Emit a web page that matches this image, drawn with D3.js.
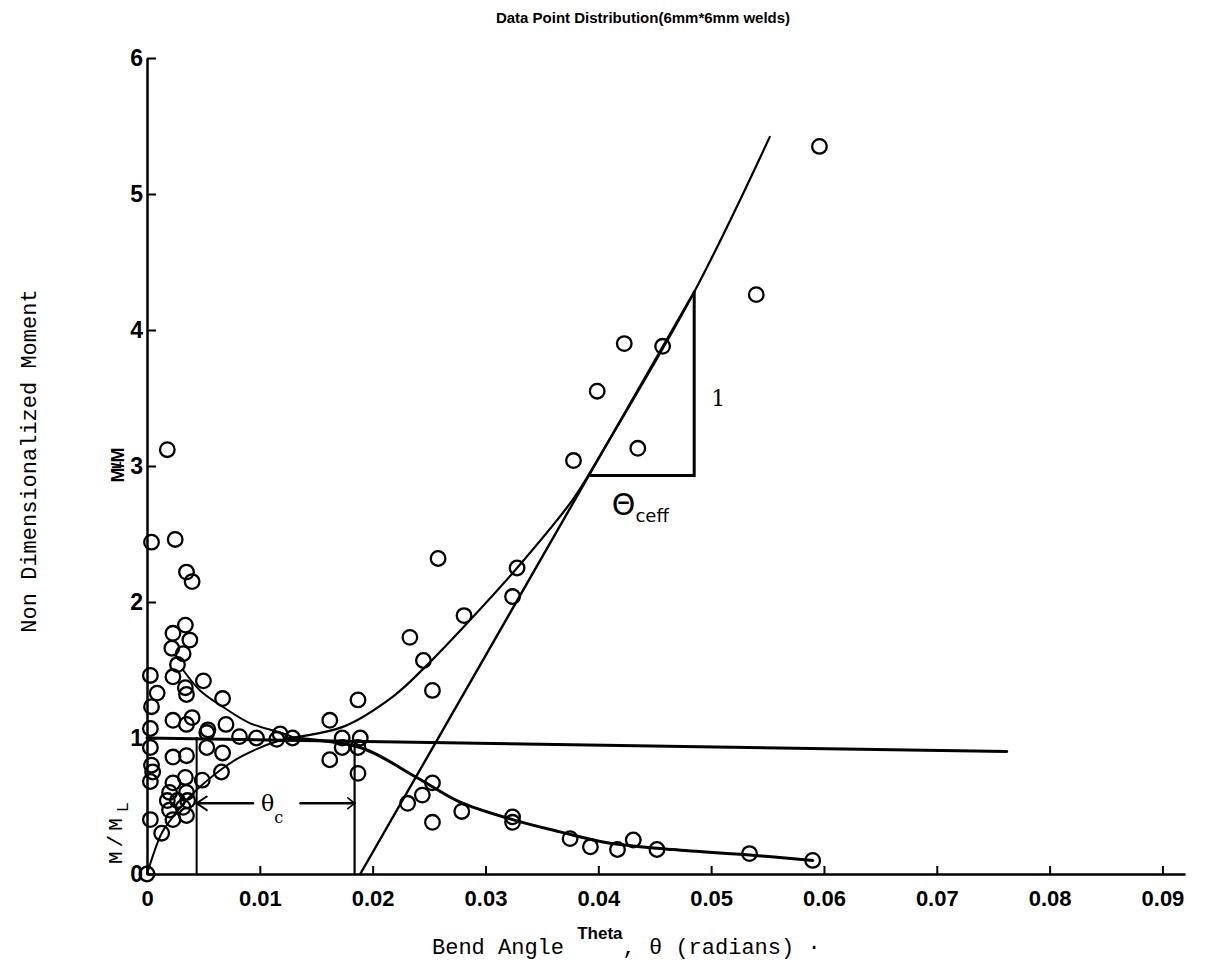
<!DOCTYPE html>
<html>
<head>
<meta charset="utf-8">
<script src="https://cdn.jsdelivr.net/npm/d3@7"></script>
<style>
body{margin:0;background:#fff;}
svg{display:block;background:#fff;}
.tick text{font-family:"Liberation Sans",Arial,sans-serif;font-weight:bold;fill:#000;}
.mono{font-family:"Liberation Mono","Courier New",monospace;fill:#000;}
.sans{font-family:"Liberation Sans",Arial,sans-serif;font-weight:bold;fill:#000;}
</style>
</head>
<body>
<div id="chart"></div>
<script>
// axis ticks
var xTicks = [0, 0.01, 0.02, 0.03, 0.04, 0.05, 0.06, 0.07, 0.08, 0.09];
var yTicks = [0, 1, 2, 3, 4, 5, 6];

// measured points, bend angle (rad) / non dimensional moment
var pointTheta = [
    0.0596, 0.0540, 0.0423, 0.0457, 0.0399, 0.0435, 0.0378, 0.0258, 0.0328, 0.0324,
    0.0281, 0.0233, 0.0245, 0.0253, 0.0187, 0.0162, 0.0173, 0.0189, 0.0173, 0.0187,
    0.0162, 0.0187, 0.0253, 0.0244, 0.0231, 0.0279, 0.0253, 0.0324, 0.0324,
    0.0375, 0.0393, 0.0417, 0.0431, 0.0452, 0.0534, 0.0590,
    0.0097, 0.0115, 0.0118, 0.0129,
    0.0018, 0.0004, 0.0025, 0.0035, 0.0040, 0.0034, 0.0023, 0.0038, 0.0022, 0.0032,
    0.0027, 0.0003, 0.0023, 0.0050, 0.0009, 0.0034, 0.0035, 0.0067, 0.0004, 0.0023,
    0.0040, 0.0035, 0.0054, 0.0070, 0.0003, 0.0082, 0.0003, 0.0053, 0.0067, 0.0023,
    0.0035, 0.0004, 0.0005, 0.0066, 0.0003, 0.0023, 0.0034, 0.0049, 0.0020, 0.0035,
    0.0018, 0.0027, 0.0036, 0.0020, 0.0032, 0.0035, 0.0003, 0.0023, 0.0013, 0.0000,
    0.0053
];
var pointMoment = [
    5.35, 4.26, 3.90, 3.88, 3.55, 3.13, 3.04, 2.32, 2.25, 2.04,
    1.90, 1.74, 1.57, 1.35, 1.28, 1.13, 1.00, 1.00, 0.93, 0.93,
    0.84, 0.74, 0.67, 0.58, 0.52, 0.46, 0.38, 0.42, 0.38,
    0.26, 0.20, 0.18, 0.25, 0.18, 0.15, 0.10,
    1.00, 0.99, 1.03, 1.00,
    3.12, 2.44, 2.46, 2.22, 2.15, 1.83, 1.77, 1.72, 1.66, 1.62,
    1.54, 1.46, 1.45, 1.42, 1.33, 1.37, 1.32, 1.29, 1.23, 1.13,
    1.15, 1.10, 1.06, 1.10, 1.07, 1.01, 0.93, 0.93, 0.89, 0.86,
    0.87, 0.80, 0.75, 0.75, 0.68, 0.67, 0.71, 0.69, 0.60, 0.60,
    0.54, 0.54, 0.54, 0.47, 0.49, 0.43, 0.40, 0.40, 0.30, 0.00,
    1.04
];

// fitted curves (theta, moment)
var riseCurve = [[0.0125, 1.0], [0.0173, 1.08], [0.0218, 1.305], [0.0245, 1.51], [0.0281, 1.82],
    [0.0328, 2.25], [0.0378, 2.76], [0.0401, 3.07], [0.0485, 4.28], [0.0552, 5.42]];
var dropCurve = [[0.0032, 1.5], [0.0047, 1.35], [0.0067, 1.23], [0.0091, 1.11], [0.0118, 1.04], [0.0131, 1.0]];
var originCurve = [[0, 0], [0.0013, 0.30], [0.0023, 0.42], [0.0038, 0.57], [0.0066, 0.77],
    [0.0085, 0.87], [0.0117, 0.98], [0.0131, 1.0]];
var tailCurve = [[0.0127, 1.0], [0.0189, 0.93], [0.0239, 0.71], [0.0277, 0.53], [0.0324, 0.40],
    [0.0366, 0.31], [0.0408, 0.23], [0.0466, 0.18], [0.0534, 0.14], [0.0590, 0.10]];
var tangentLine = [[0.0189, 0], [0.0485, 4.28]];
var limitLine = [[0, 1.0], [0.0762, 0.90]];

// theta_c and theta_ceff construction
var thetaC = [0.0044, 0.0184];
var arrowY = 0.52;
var slopeBase = [[0.0393, 2.93], [0.0485, 2.93], [0.0485, 4.28]];

var width = 1215, height = 966;

var svg = d3.select("#chart").append("svg")
    .attr("width", width)
    .attr("height", height);

var x = d3.scaleLinear().domain([0, 0.092]).range([147, 1185]);
var y = d3.scaleLinear().domain([0, 6]).range([874, 58]);

//title
svg.append("text")
    .attr("class", "sans")
    .attr("x", 643).attr("y", 23)
    .attr("text-anchor", "middle")
    .style("font-size", "15px")
    .text("Data Point Distribution(6mm*6mm welds)");

//axes
var xAxis = svg.append("g")
    .attr("transform", "translate(0," + y(0) + ")")
    .call(d3.axisBottom(x).tickValues(xTicks).tickSize(-8).tickSizeOuter(0).tickPadding(16)
        .tickFormat(function(d){ return d === 0 ? "0" : d3.format(".2f")(d); }));
xAxis.selectAll("text").style("font-size", "22px");

var yAxis = svg.append("g")
    .attr("transform", "translate(" + x(0) + ",0)")
    .call(d3.axisLeft(y).tickValues(yTicks).tickSize(-9).tickSizeOuter(0).tickPadding(4)
        .tickFormat(d3.format("d")));
yAxis.selectAll("text").style("font-size", "23px");

svg.selectAll(".domain").attr("stroke", "#000").attr("stroke-width", 2.5);
svg.selectAll(".tick line").attr("stroke", "#000").attr("stroke-width", 2);

//axis titles
svg.append("text")
    .attr("class", "mono")
    .attr("transform", "translate(36,461) rotate(-90)")
    .attr("text-anchor", "middle")
    .style("font-size", "22px")
    .text("Non  Dimensionalized Moment");

var mml = svg.append("text")
    .attr("class", "mono")
    .attr("transform", "translate(122,864) rotate(-90)")
    .style("font-size", "21px")
    .style("letter-spacing", "4px");
mml.append("tspan").text("M/M");
mml.append("tspan").attr("dy", 6).attr("dx", 2).style("font-size", "17px").text("L");

svg.append("text")
    .attr("class", "sans")
    .attr("transform", "translate(124,465) rotate(-90)")
    .attr("text-anchor", "middle")
    .style("font-size", "18px")
    .text("M/M");
svg.append("text")
    .attr("class", "sans")
    .attr("transform", "translate(121,465) rotate(-90)")
    .attr("text-anchor", "middle")
    .style("font-size", "12px")
    .text("L");

var xt = svg.append("text").attr("class", "mono").attr("x", 432).attr("y", 954).style("font-size", "22px");
xt.append("tspan").text("Bend Angle ");
xt.append("tspan").attr("class", "sans").attr("dy", -15).style("font-size", "17px").text("Theta");
xt.append("tspan").attr("dy", 15).text(", θ (radians) ·");

//lines
var line = d3.line()
    .x(function(d){ return x(d[0]); })
    .y(function(d){ return y(d[1]); });
var smooth = d3.line()
    .x(function(d){ return x(d[0]); })
    .y(function(d){ return y(d[1]); })
    .curve(d3.curveCatmullRom);

function addPath(data, gen, w){
    svg.append("path")
        .datum(data)
        .attr("d", gen)
        .attr("fill", "none")
        .attr("stroke", "#000")
        .attr("stroke-width", w)
        .attr("stroke-linecap", "round");
}

addPath(limitLine, line, 3);
addPath(tangentLine, line, 2.4);
addPath(riseCurve, smooth, 2.2);
addPath(dropCurve, smooth, 2);
addPath(originCurve, smooth, 2);
addPath(tailCurve, smooth, 3);

// theta_c verticals and arrow
addPath([[thetaC[0], 0], [thetaC[0], 1.0]], line, 2);
addPath([[thetaC[1], 0], [thetaC[1], 0.95]], line, 2.2);
addPath([[thetaC[0], arrowY], [0.0094, arrowY]], line, 2.4);
addPath([[0.0136, arrowY], [thetaC[1], arrowY]], line, 2.4);
addPath([[thetaC[0] + 0.0009, arrowY + 0.05], [thetaC[0], arrowY], [thetaC[0] + 0.0009, arrowY - 0.05]], line, 2);
addPath([[thetaC[1] - 0.0006, arrowY + 0.04], [thetaC[1], arrowY], [thetaC[1] - 0.0006, arrowY - 0.04]], line, 1.6);

var tc = svg.append("text")
    .attr("x", x(0.0101)).attr("y", y(arrowY) + 8)
    .style("font-family", "DejaVu Serif, serif")
    .style("font-size", "22px");
tc.append("tspan").text("θ");
tc.append("tspan").attr("dy", 12).style("font-size", "16px").text("c");

// slope triangle
addPath(slopeBase, line, 3);
svg.append("text")
    .attr("x", x(0.0500)).attr("y", y(3.5) + 8)
    .style("font-family", "DejaVu Serif, serif")
    .style("font-size", "22px")
    .text("1");
var te = svg.append("text")
    .attr("x", x(0.0412)).attr("y", y(2.64))
    .style("font-family", "DejaVu Sans, sans-serif")
    .style("font-size", "30px");
te.append("tspan").text("Θ");
te.append("tspan").attr("dy", 7).style("font-size", "18px").text("ceff");

//points
svg.append("g").selectAll("circle")
    .data(pointTheta)
    .enter().append("circle")
    .attr("cx", function(d){ return x(d); })
    .attr("cy", function(d, i){ return y(pointMoment[i]); })
    .attr("r", 7.3)
    .attr("fill", "none")
    .attr("stroke", "#000")
    .attr("stroke-width", 2.3);
</script>
</body>
</html>
